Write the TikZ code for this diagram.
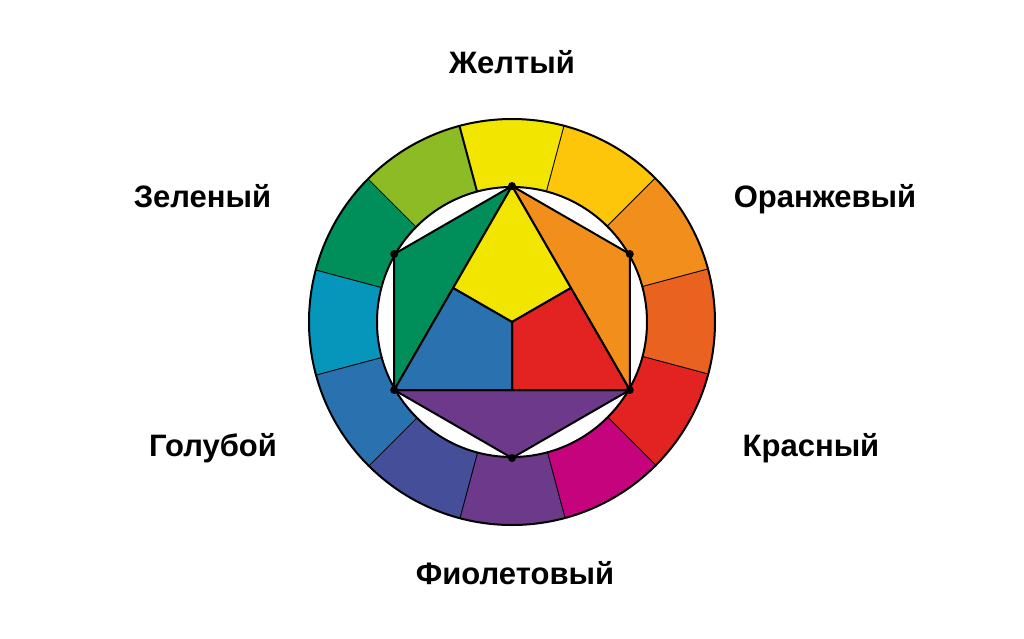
\documentclass[tikz,border=0pt]{standalone}
\usepackage{fontspec}
\setmainfont{Liberation Sans}
\usepackage{tikz}
\usetikzlibrary{calc}
\usetikzlibrary{positioning}
\definecolor{cY}{HTML}{F2E500}
\definecolor{cYO}{HTML}{FDC60B}
\definecolor{cO}{HTML}{F18E1C}
\definecolor{cRO}{HTML}{EA621F}
\definecolor{cR}{HTML}{E32322}
\definecolor{cRV}{HTML}{C4037D}
\definecolor{cV}{HTML}{6D398B}
\definecolor{cBV}{HTML}{444E99}
\definecolor{cB}{HTML}{2A71B0}
\definecolor{cBG}{HTML}{0696BB}
\definecolor{cG}{HTML}{008E5B}
\definecolor{cYG}{HTML}{8CBB26}
\tikzset{every picture/.style={line width=2pt,x=1pt,y=1pt},
 sector/.style={draw=black,line join=round},
 vdot/.style={circle,fill=black,inner sep=0pt,minimum size=8pt},
 lbl/.style={font=\fontsize{31}{32}\selectfont\bfseries,inner sep=0pt,anchor=base}}

\begin{document}
\begin{tikzpicture}
\useasboundingbox (-512,-316) rectangle (512,322);
% outer ring
\foreach \a / \c in {90/cY,60/cYO,30/cO,0/cRO,-30/cR,-60/cRV,-90/cV,-120/cBV,-150/cB,-180/cBG,-210/cG,-240/cYG} {
\fill[\c] (\a-15:203) arc[start angle=\a-15,end angle=\a+15,radius=203] -- (\a+15:135) arc[start angle=\a+15,end angle=\a-15,radius=135] -- cycle;
\draw (\a-15:203) -- (\a-15:135);
}
\draw (0,0) circle[radius=203];
\draw (0,0) circle[radius=135];
% hexagon and triangle
\coordinate (c) at (0,0);
\foreach \x / \dg in {1/90,2/150,3/210,4/270,5/330,6/30} {
\coordinate (h\x) at (\dg:136);
}
\coordinate (m13) at ($(h1)!0.5!(h3)$);
\coordinate (m15) at ($(h1)!0.5!(h5)$);
\coordinate (m35) at ($(h3)!0.5!(h5)$);
\filldraw[sector,fill=cG] (h1) -- (h2) -- (h3) -- cycle;
\filldraw[sector,fill=cO] (h1) -- (h6) -- (h5) -- cycle;
\filldraw[sector,fill=cV] (h3) -- (h4) -- (h5) -- cycle;
\filldraw[sector,fill=cY] (h1) -- (m15) -- (c) -- (m13) -- cycle;
\filldraw[sector,fill=cR] (m15) -- (h5) -- (m35) -- (c) -- cycle;
\filldraw[sector,fill=cB] (m13) -- (c) -- (m35) -- (h3) -- cycle;
\foreach \x in {1,...,6} {
\node[vdot] (d\x) at (h\x) {};
}
% labels
\foreach \x / \y / \n / \t in {0/249/yellow/Желтый,313/115/orange/Оранжевый,299/-134.5/red/Красный,3/-262/violet/Фиолетовый,-299/-134.5/blue/Голубой,-309.5/115/green/Зеленый} {
\node[lbl] (l\n) at (\x,\y) {\t};
}
\end{tikzpicture}
\end{document}
